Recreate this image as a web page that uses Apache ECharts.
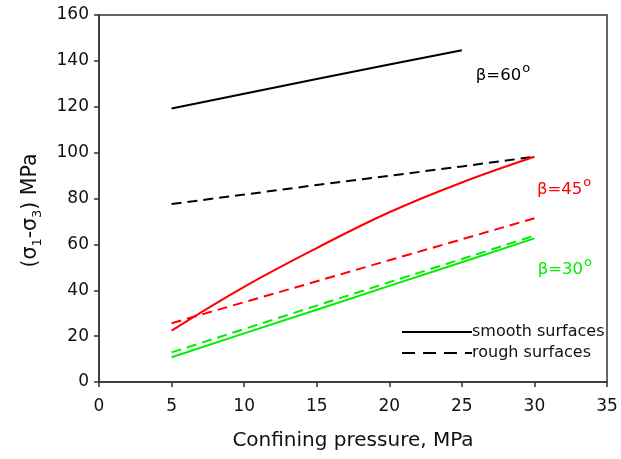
<!DOCTYPE html>
<html>
<head>
<meta charset="utf-8">
<script src="https://cdn.jsdelivr.net/npm/echarts@6/dist/echarts.min.js"></script>
<style>html,body{margin:0;padding:0;background:#fff}#c{width:621px;height:459px}</style>
</head>
<body>
<div id="c"></div>
<script>
// Confining pressure (MPa) points
const pressure = [5, 10, 15, 20, 25, 30];
const pressure60s = [5, 10, 15, 20, 25];
// beta = 60 deg
const smooth60 = [119.2, 125.7, 132.1, 138.4, 144.6];
const rough60 = [77.6, 81.7, 85.9, 89.9, 94.0, 98.2];
// beta = 45 deg
const smooth45 = [22.4, 41.5, 58.4, 74.0, 87.0, 98.2];
const rough45 = [25.6, 34.8, 43.9, 53.1, 62.2, 71.4];
// beta = 30 deg
const smooth30 = [10.8, 21.2, 31.5, 41.9, 52.2, 62.6];
const rough30 = [12.9, 23.1, 33.3, 43.5, 53.6, 63.8];
// annotation labels [text, x, y]
const betaLabels = [['60', 25.96, 134.7], ['45', 30.17, 84.8], ['30', 30.23, 50.0]];
const xTicks = {min: 0, max: 35, step: 5};
const yTicks = {min: 0, max: 160, step: 20};

const FONT = 'DejaVu Sans';
const zip = (xs, ys) => xs.map((x, i) => [x, ys[i]]);

function betaMark(idx, color) {
  const l = betaLabels[idx];
  return {
    symbol: 'circle', symbolSize: 0, silent: true,
    data: [{coord: [l[1], l[2]], value: l[0]}],
    label: {
      show: true, position: 'right', distance: 0,
      formatter: '{b|β=' + l[0] + '}{s|o}',
      rich: {
        b: {fontFamily: FONT, fontSize: 16.5, color: color, lineHeight: 22, verticalAlign: 'bottom'},
        s: {fontFamily: FONT, fontSize: 13, color: color, lineHeight: 22, verticalAlign: 'top', padding: [0, 0, 8, 1]}
      }
    }
  };
}

function line(name, data, color, dashed, mark) {
  const s = {
    name: name, type: 'line', data: data, symbol: 'none', smooth: false,
    lineStyle: {color: color, width: 2, type: dashed ? [10, 6] : 'solid'},
    itemStyle: {color: color}, z: 3
  };
  if (mark) s.markPoint = mark;
  return s;
}

const chart = echarts.init(document.getElementById('c'), null, {renderer: 'canvas'});
chart.setOption({
  animation: false,
  backgroundColor: '#fff',
  grid: {left: 99, right: 14, top: 15, bottom: 77, show: true, borderColor: '#333', borderWidth: 1.5, backgroundColor: 'transparent'},
  legend: {
    left: 396, top: 319, orient: 'vertical', itemWidth: 70, itemHeight: 14, itemGap: 5,
    data: ['smooth surfaces', 'rough surfaces'],
    itemStyle: {opacity: 0},
    textStyle: {fontFamily: FONT, fontSize: 16, color: '#111', padding: [0, 0, 0, -5]}
  },
  xAxis: {
    type: 'value', min: xTicks.min, max: xTicks.max, interval: xTicks.step,
    name: 'Confining pressure, MPa', nameLocation: 'middle', nameGap: 49,
    nameTextStyle: {fontFamily: FONT, fontSize: 20, color: '#111'},
    axisLine: {show: true, lineStyle: {color: '#333', width: 1.5}},
    axisTick: {show: true, length: 5, lineStyle: {color: '#333', width: 1.5}},
    axisLabel: {fontFamily: FONT, fontSize: 17, color: '#111', margin: 16},
    splitLine: {show: false}
  },
  yAxis: {
    type: 'value', min: yTicks.min, max: yTicks.max, interval: yTicks.step,
    name: '(σ{sub|1}-σ{sub|3}) MPa', nameLocation: 'middle', nameGap: 56,
    nameTextStyle: {
      fontFamily: FONT, fontSize: 20.5, color: '#111', lineHeight: 24, padding: [0, 24, 0, 0],
      rich: {sub: {fontFamily: FONT, fontSize: 13, color: '#111', lineHeight: 12, verticalAlign: 'top', padding: [12, 0, 0, 0]}}
    },
    axisLine: {show: true, lineStyle: {color: '#333', width: 1.5}},
    axisTick: {show: true, length: 5, lineStyle: {color: '#333', width: 1.5}},
    axisLabel: {fontFamily: FONT, fontSize: 17, color: '#111', margin: 10},
    splitLine: {show: false}
  },
  series: [
    line('s60', zip(pressure60s, smooth60), '#000', false, betaMark(0, '#000')),
    line('r60', zip(pressure, rough60), '#000', true),
    Object.assign(line('s45', zip(pressure, smooth45), '#ff0000', false, betaMark(1, '#ff0000')), {smooth: 0.4}),
    line('r45', zip(pressure, rough45), '#ff0000', true),
    line('r30', zip(pressure, rough30), '#00ee00', true),
    line('s30', zip(pressure, smooth30), '#00ee00', false, betaMark(2, '#00ee00')),
    {name: 'smooth surfaces', type: 'line', data: [], symbol: 'none', lineStyle: {color: '#000', width: 2.5}, itemStyle: {color: '#000'}},
    {name: 'rough surfaces', type: 'line', data: [], symbol: 'none', lineStyle: {color: '#000', width: 3, type: [13, 8]}, itemStyle: {color: '#000'}}
  ]
});
</script>
</body>
</html>
